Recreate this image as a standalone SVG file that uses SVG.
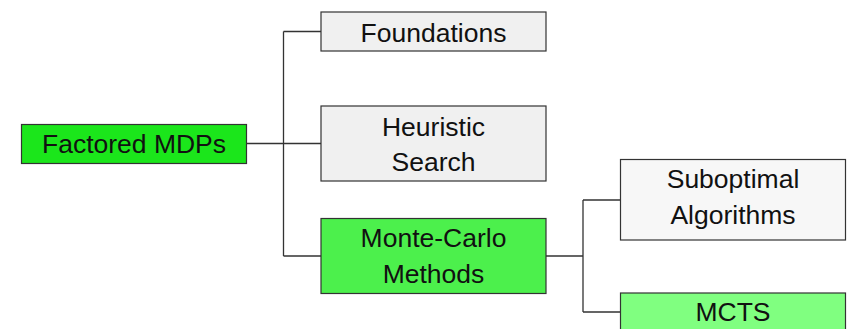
<svg xmlns="http://www.w3.org/2000/svg" width="850" height="329" viewBox="0 0 850 329">
<style>
.box{stroke:#333;stroke-width:1.2}
.t{font-family:"Liberation Sans",Arial,sans-serif;font-size:26.5px;fill:#111;text-anchor:middle}
.c{fill:none;stroke:#333;stroke-width:1.3}
</style>
<rect width="850" height="329" fill="#fff"/>
<g id="connectors">
<path class="c" d="M246.5 143.5H321M283.5 31.5V256M283.5 31.5H321M283.5 256H321"/>
<path class="c" d="M546 256H583M583 200V312M583 200H620M583 312H620"/>
</g>
<g id="factored">
<rect class="box" x="21.5" y="124.5" width="225" height="39" fill="#1be61b"/>
<text class="t" x="134" y="153">Factored MDPs</text>
</g>
<g id="foundations">
<rect class="box" x="321" y="12" width="225" height="39" fill="#f0f0f0"/>
<text class="t" x="433.5" y="42">Foundations</text>
</g>
<g id="heuristic">
<rect class="box" x="321" y="106" width="225" height="75" fill="#f0f0f0"/>
<text class="t" x="433.5" y="136">Heuristic</text>
<text class="t" x="433.5" y="170.5">Search</text>
</g>
<g id="montecarlo">
<rect class="box" x="321" y="218.5" width="225" height="75" fill="#4cf04c"/>
<text class="t" x="433.5" y="247">Monte-Carlo</text>
<text class="t" x="433.5" y="283">Methods</text>
</g>
<g id="suboptimal">
<rect class="box" x="620.5" y="159.5" width="225" height="80.5" fill="#f7f7f7"/>
<text class="t" x="733" y="188">Suboptimal</text>
<text class="t" x="733" y="224">Algorithms</text>
</g>
<g id="mcts">
<rect class="box" x="620.5" y="293" width="225" height="50" fill="#80ff80"/>
<text class="t" x="733" y="321">MCTS</text>
</g>
</svg>
